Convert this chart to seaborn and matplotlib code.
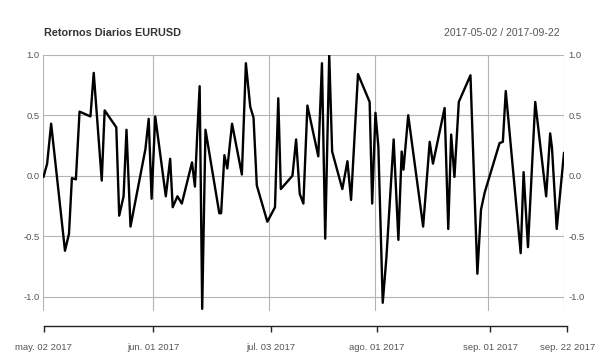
import matplotlib
matplotlib.use("Agg")
import matplotlib.pyplot as plt
import seaborn as sns
import pandas as pd

# Day offsets from 2017-05-02 and daily returns (traced vertices)
dias = [0.0, 1.0, 2.1, 5.9, 7.0, 7.8, 8.9, 9.9, 12.9, 13.8, 16.0, 16.8, 20.0, 20.8,
        22.0, 22.8, 23.9, 28.0, 28.9, 29.7, 30.7, 33.6, 34.8, 35.5, 36.8, 38.0,
        40.8, 41.6, 42.2, 42.9, 43.6, 44.5, 48.3, 48.8, 49.7, 50.5, 51.8, 54.5,
        55.6, 56.8, 57.7, 58.6, 61.5, 63.6, 64.5, 65.2, 68.4, 69.4, 70.4, 71.4,
        72.5, 75.5, 76.5, 77.4, 78.5, 79.3, 82.1, 83.5, 84.5, 86.4, 89.6, 90.3,
        91.2, 92.0, 93.2, 94.2, 96.2, 97.5, 98.4, 98.9, 100.2, 104.3, 106.1, 107.0,
        110.2, 111.2, 112.0, 112.9, 114.1, 117.3, 119.2, 120.2, 121.2, 125.3, 126.2,
        127.0, 131.1, 131.9, 133.1, 135.1, 138.1, 139.2, 139.7, 141.0, 143.0]
retornos = [-0.01, 0.10, 0.43, -0.62, -0.48, -0.02, -0.03, 0.53, 0.49, 0.85, -0.04, 0.54,
            0.40, -0.33, -0.17, 0.38, -0.42, 0.22, 0.47, -0.19, 0.49, -0.17, 0.14, -0.26,
            -0.17, -0.23, 0.11, -0.09, 0.32, 0.74, -1.10, 0.38, -0.31, -0.31, 0.17, 0.06,
            0.43, 0.01, 0.93, 0.57, 0.48, -0.08, -0.38, -0.26, 0.64, -0.11, 0.00, 0.30,
            -0.15, -0.23, 0.58, 0.16, 0.93, -0.52, 1.00, 0.20, -0.11, 0.12, -0.20, 0.84,
            0.61, -0.23, 0.52, 0.24, -1.05, -0.68, 0.30, -0.53, 0.20, 0.05, 0.50, -0.42,
            0.28, 0.10, 0.56, -0.44, 0.34, -0.01, 0.61, 0.83, -0.81, -0.28, -0.14, 0.27,
            0.28, 0.70, -0.64, 0.03, -0.59, 0.61, -0.17, 0.35, 0.23, -0.44, 0.19]

tick_dias = [0, 30, 62, 91, 122, 143]
tick_labels = ["may. 02 2017", "jun. 01 2017", "jul. 03 2017", "ago. 01 2017",
               "sep. 01 2017", "sep. 22 2017"]
y_ticks = [-1.0, -0.5, 0.0, 0.5, 1.0]
y_labels = ["-1.0", "-0.5", "0.0", "0.5", "1.0"]
titulo = "Retornos Diarios EURUSD"
rango = "2017-05-02 / 2017-09-22"

sns.set_theme(style="white")
plt.rcParams["font.family"] = ["Liberation Sans", "DejaVu Sans"]

W, H = 608, 357
fig = plt.figure(figsize=(W / 100, H / 100), dpi=100)
fig.patch.set_facecolor("white")

ax = fig.add_axes([43.5 / W, (H - 311) / H, 520.5 / W, (311 - 54.5) / H])
df = pd.DataFrame({"dia": dias, "retorno": retornos})
sns.lineplot(data=df, x="dia", y="retorno", sort=False, color="black",
             linewidth=1.7, ax=ax)
ax.set_xlim(0, 143)
ax.set_ylim(-1.118, 1.002)
ax.set_xticks(tick_dias)
ax.set_yticks(y_ticks)
ax.set_yticklabels(y_labels)
ax.grid(True, color="#b4b4b4", linewidth=0.8)
ax.set_axisbelow(True)
for s in ax.spines.values():
    s.set_visible(False)
ax.set_xlabel("")
ax.set_ylabel("")
ax.tick_params(axis="x", labelbottom=False, length=0)
ax.tick_params(axis="y", labelleft=True, labelright=True, length=0, pad=3,
               labelsize=6.8, labelcolor="#555555")

ax2 = fig.add_axes([43.6 / W, (H - 326) / H, 523.8 / W, 0.001])
ax2.set_xlim(0, 143)
ax2.set_xticks(tick_dias)
ax2.set_xticklabels(tick_labels)
ax2.set_yticks([])
ax2.patch.set_visible(False)
for k, s in ax2.spines.items():
    s.set_visible(k == "bottom")
ax2.spines["bottom"].set_color("#222222")
ax2.spines["bottom"].set_linewidth(1.0)
ax2.tick_params(axis="x", direction="out", length=4.5, width=1.0, color="#222222",
                labelsize=6.8, labelcolor="#555555", pad=8, bottom=True)

fig.text(43.6 / W, 1 - 33 / H, titulo, ha="left", va="center", fontsize=7.8,
         fontweight="bold", color="#333333")
fig.text(560 / W, 1 - 33 / H, rango, ha="right", va="center", fontsize=7.5,
         color="#555555")

fig.savefig("out.png", dpi=100)
